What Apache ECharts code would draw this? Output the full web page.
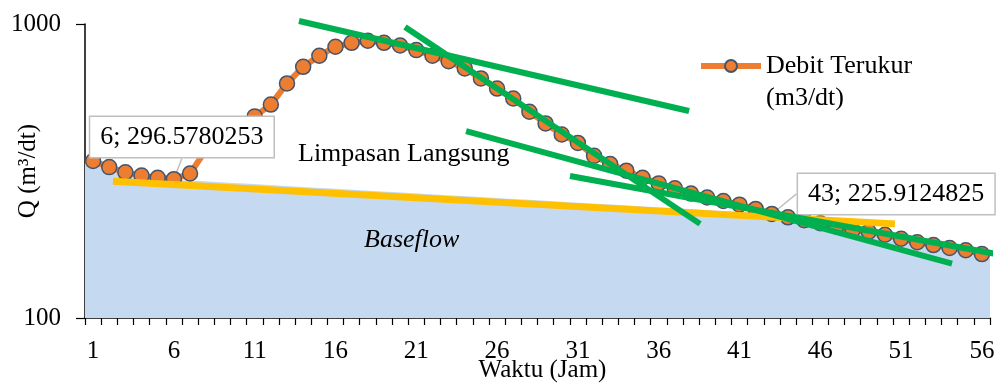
<!DOCTYPE html>
<html>
<head>
<meta charset="utf-8">
<script src="https://cdn.jsdelivr.net/npm/echarts@6/dist/echarts.min.js"></script>
<style>
html,body{margin:0;padding:0;background:#fff;}
#chart{width:1001px;height:383px;}
</style>
</head>
<body>
<div id="chart"></div>
<script>
// ---- data ----
var categories = [];
for (var i = 1; i <= 56; i++) categories.push(String(i));

var debitTerukur = [342, 326, 313, 305, 300, 296.5780253, 310, 374, 408, 445,
  485, 532, 628, 715, 780, 837, 863, 877, 863, 845,
  815, 780, 747, 706, 653, 603, 558, 503, 459, 421,
  394, 356, 334, 317, 300, 287, 276, 265, 257, 250,
  243, 235, 225.9124825, 220, 215, 210, 205, 199, 196.5, 192,
  186, 181, 177, 173, 170, 165];

var baseflow = [342, 326, 313, 305, 300, 296.6, 294.4, 292.3, 290.1, 288.0,
  285.9, 283.8, 281.7, 279.6, 277.6, 275.5, 273.5, 271.5, 269.5, 267.6,
  265.6, 263.6, 261.7, 259.8, 257.9, 256.0, 254.1, 252.3, 250.4, 248.6,
  246.8, 244.9, 243.1, 241.4, 239.6, 237.8, 236.1, 234.4, 232.6, 230.9,
  229.2, 227.6, 225.9, 220, 215, 210, 205, 199, 196.5, 192,
  186, 181, 177, 173, 170, 165];

// segments: [category position, Q]
var baseflowLine = [[2.23, 292], [50.62, 209]];
var tangent1 = [[13.74, 1024], [37.88, 506]];
var tangent2 = [[20.30, 977], [38.56, 209]];
var tangent3 = [[24.08, 432], [54.15, 153]];
var tangent4 = [[30.51, 304], [57.18, 164]];

var yTicks = [100, 1000];
var labelIdx = [5, 42];

// ---- chart ----
var FONT = 'Liberation Serif';
var SERIES_NAME = 'Debit Terukur (m3/dt)';
var chart = echarts.init(document.getElementById('chart'), null, {renderer: 'canvas'});

var orangeData = debitTerukur.map(function (v, i) {
  if (i === labelIdx[0]) {
    return {value: v, label: {show: true, position: 'top', formatter: (i + 1) + '; ' + v}, labelLine: {show: true}};
  }
  if (i === labelIdx[1]) {
    return {value: v, label: {show: true, position: 'right', formatter: (i + 1) + '; ' + v}, labelLine: {show: true}};
  }
  return v;
});

function segSeries(name, data, color, width, z) {
  return {
    name: name, type: 'line', xAxisIndex: 2, data: data,
    symbol: 'none', clip: false, silent: true, z: z,
    lineStyle: {color: color, width: width, cap: 'butt'}
  };
}

var option = {
  animation: false,
  backgroundColor: '#fff',
  grid: {left: 85, right: 11, top: 24, bottom: 65, containLabel: false, outerBoundsMode: 'none'},
  legend: {
    data: [SERIES_NAME],
    left: 698, top: 18, padding: 0,
    itemWidth: 60, itemHeight: 15, itemGap: 5,
    lineStyle: {width: 6, color: '#ED7D31'},
    formatter: function () { return ' \nDebit Terukur\n(m3/dt)'; },
    textStyle: {fontFamily: FONT, fontSize: 26, color: '#000', lineHeight: 32}
  },
  xAxis: [
    {
      type: 'category', data: categories, boundaryGap: true,
      axisLine: {lineStyle: {color: '#000', width: 1.5}},
      axisTick: {show: true, interval: 0, length: 7, lineStyle: {color: '#000', width: 1.2}},
      axisLabel: {interval: 4, fontFamily: FONT, fontSize: 25, color: '#000', margin: 21},
      splitLine: {show: false},
      name: 'Waktu (Jam)', nameLocation: 'middle', nameGap: 40, nameMoveOverlap: false,
      nameTextStyle: {fontFamily: FONT, fontSize: 25, color: '#000', padding: [0, 0, 0, 10]}
    },
    {type: 'category', data: categories, boundaryGap: false, show: false},
    {type: 'value', min: 0.5, max: 56.5, show: false}
  ],
  yAxis: {
    type: 'log', logBase: 10, min: yTicks[0], max: yTicks[1],
    axisLine: {show: true, lineStyle: {color: '#000', width: 1.5}},
    axisTick: {show: true, length: 9, lineStyle: {color: '#000', width: 1.2}},
    minorTick: {show: false},
    axisLabel: {fontFamily: FONT, fontSize: 25, color: '#000', margin: 24,
      formatter: function (v) { return String(Math.round(v)); }},
    splitLine: {show: false},
    name: 'Q (m³/dt)', nameLocation: 'middle', nameGap: 44, nameRotate: 90, nameMoveOverlap: false,
    nameTextStyle: {fontFamily: FONT, fontSize: 25, color: '#000'}
  },
  graphic: [
    {type: 'text', left: 298, top: 141, z: 10,
      style: {text: 'Limpasan Langsung', font: '26px "Liberation Serif"', fill: '#000'}},
    {type: 'text', left: 364, top: 227, z: 10,
      style: {text: 'Baseflow', font: 'italic 26px "Liberation Serif"', fill: '#000'}}
  ],
  series: [
    {
      name: 'Baseflow', type: 'line', xAxisIndex: 1, data: baseflow,
      symbol: 'none', silent: true, z: 1,
      lineStyle: {width: 0},
      areaStyle: {color: '#C5D9F0', opacity: 1, origin: 'start'}
    },
    {
      name: SERIES_NAME, type: 'line', xAxisIndex: 0, data: orangeData,
      symbol: 'circle', symbolSize: 15, showAllSymbol: true, z: 2,
      lineStyle: {color: '#ED7D31', width: 6},
      itemStyle: {color: '#ED7D31', borderColor: '#44546A', borderWidth: 1.5},
      label: {
        show: false, fontFamily: FONT, fontSize: 26, color: '#000', lineHeight: 30,
        backgroundColor: '#fff', borderColor: '#BFBFBF', borderWidth: 1.5, padding: [5, 10, 5, 10]
      },
      labelLine: {show: true, lineStyle: {color: '#BFBFBF', width: 1.5}},
      labelLayout: function (p) {
        if (p.dataIndex === labelIdx[0]) return {dx: 8, dy: -9};
        if (p.dataIndex === labelIdx[1]) return {dx: 13, dy: -20};
        return {};
      }
    },
    segSeries('baseflowLine', baseflowLine, '#FFC000', 7, 3),
    segSeries('t1', tangent1, '#00B050', 6, 4),
    segSeries('t2', tangent2, '#00B050', 6, 4),
    segSeries('t3', tangent3, '#00B050', 6, 4),
    segSeries('t4', tangent4, '#00B050', 6, 4)
  ]
};
chart.setOption(option);
</script>
</body>
</html>
